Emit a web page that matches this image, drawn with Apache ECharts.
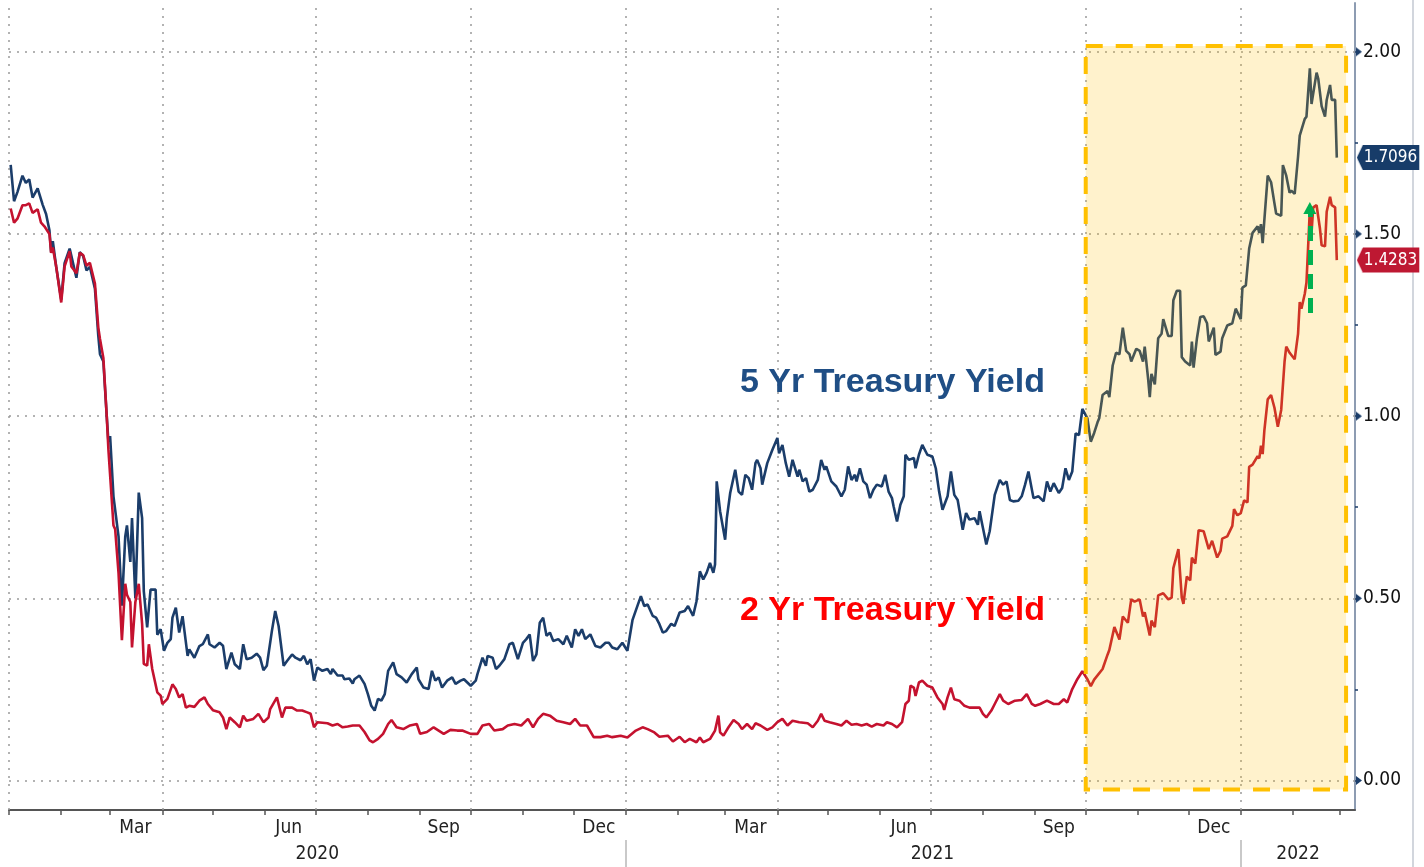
<!DOCTYPE html>
<html>
<head>
<meta charset="utf-8">
<script src="https://cdn.jsdelivr.net/npm/echarts@6/dist/echarts.min.js"></script>
<style>
html,body{margin:0;padding:0;background:#fff;}
#chart{width:1424px;height:867px;}
</style>
</head>
<body>
<div id="chart"></div>
<script>
// ---- DATA (x = days since 2020-01-01) ----
const days5 = [1,3,5,8,10,12,14,17,18,20,22,24,25,26,28,31,33,36,37,40,42,44,46,48,51,53,54,56,58,59,60,62,63,65,67,69,70,72,73,75,77,79,80,82,84,87,88,90,92,94,96,97,99,101,103,106,107,110,113,115,118,119,122,125,127,129,132,134,137,139,141,144,147,149,151,153,156,158,160,163,165,168,170,173,175,177,179,181,183,186,189,191,192,195,198,199,202,204,205,208,211,213,215,217,219,221,223,225,228,230,233,236,239,242,243,246,249,251,253,255,257,260,263,265,268,270,274,277,278,281,283,284,287,289,291,294,297,299,302,305,307,309,311,313,315,317,319,321,323,326,329,331,334,336,338,340,342,345,348,351,354,356,358,361,364,367,370,373,375,377,379,382,384,386,388,390,393,395,398,401,403,406,408,410,412,414,416,418,419,420,422,425,426,428,431,433,435,437,439,441,443,444,446,447,450,453,456,457,459,461,463,465,468,469,471,473,475,477,480,482,484,485,488,491,494,496,498,500,502,503,505,507,509,511,513,515,518,520,522,524,525,527,529,531,532,534,537,538,540,542,545,548,550,552,554,557,559,561,563,566,568,570,573,575,576,578,580,582,585,588,590,592,594,596,599,601,603,605,608,611,614,616,618,620,623,625,627,629,631,633,635,637,640,642,644,646,647,649,652,653,655,657,659,661,663,665,666,669,671,673,674,676,677,678,680,682,684,685,688,690,691,693,695,696,698,701,702,703,705,707,709,711,712,715,716,719,720,723,726,728,731,732,734,736,738,741,742,743,744,745,747,749,751,752,755,756,758,760,761,763,765,766,767,769,770,772,773,776,777,779,781,782,784,785,787,788];
const yield5 = [1.69,1.59,1.615,1.66,1.64,1.65,1.60,1.625,1.61,1.58,1.555,1.51,1.45,1.48,1.41,1.32,1.42,1.46,1.44,1.38,1.45,1.44,1.40,1.41,1.35,1.22,1.17,1.15,1.00,0.93,0.945,0.78,0.78,0.67,0.48,0.67,0.70,0.60,0.72,0.50,0.79,0.72,0.52,0.42,0.524,0.524,0.40,0.415,0.356,0.378,0.388,0.447,0.474,0.406,0.451,0.342,0.36,0.337,0.369,0.374,0.401,0.374,0.365,0.378,0.37,0.306,0.351,0.319,0.306,0.374,0.333,0.337,0.348,0.337,0.303,0.315,0.41,0.465,0.424,0.315,0.328,0.346,0.337,0.33,0.342,0.319,0.333,0.274,0.31,0.301,0.306,0.292,0.306,0.288,0.288,0.278,0.28,0.266,0.278,0.288,0.265,0.237,0.205,0.192,0.224,0.219,0.237,0.301,0.324,0.292,0.283,0.269,0.292,0.31,0.278,0.255,0.251,0.301,0.274,0.283,0.255,0.274,0.283,0.265,0.274,0.278,0.26,0.274,0.292,0.337,0.315,0.342,0.337,0.306,0.315,0.333,0.374,0.378,0.333,0.378,0.388,0.401,0.328,0.346,0.433,0.447,0.397,0.406,0.383,0.388,0.374,0.397,0.365,0.415,0.397,0.415,0.388,0.401,0.369,0.365,0.378,0.378,0.365,0.36,0.378,0.356,0.44,0.48,0.506,0.479,0.483,0.452,0.447,0.429,0.406,0.41,0.43,0.424,0.461,0.465,0.479,0.452,0.492,0.574,0.552,0.57,0.597,0.57,0.593,0.821,0.739,0.661,0.72,0.789,0.853,0.793,0.784,0.839,0.83,0.798,0.871,0.88,0.857,0.812,0.871,0.907,0.94,0.898,0.921,0.871,0.834,0.88,0.834,0.853,0.821,0.83,0.793,0.798,0.825,0.88,0.853,0.862,0.821,0.807,0.78,0.798,0.862,0.825,0.839,0.821,0.857,0.821,0.812,0.775,0.798,0.812,0.807,0.839,0.793,0.775,0.752,0.711,0.757,0.78,0.894,0.88,0.885,0.857,0.894,0.921,0.894,0.889,0.857,0.793,0.743,0.78,0.848,0.784,0.77,0.688,0.734,0.716,0.72,0.702,0.739,0.693,0.648,0.684,0.784,0.825,0.812,0.821,0.77,0.766,0.768,0.78,0.812,0.848,0.775,0.78,0.766,0.821,0.793,0.816,0.789,0.803,0.857,0.825,0.848,0.953,0.948,1.02,0.994,0.93,0.954,0.983,0.994,1.058,1.069,1.052,1.139,1.174,1.17,1.243,1.179,1.17,1.15,1.185,1.179,1.15,1.191,1.104,1.052,1.116,1.087,1.214,1.226,1.266,1.22,1.22,1.318,1.344,1.344,1.162,1.15,1.139,1.205,1.133,1.214,1.272,1.274,1.255,1.205,1.243,1.168,1.177,1.214,1.249,1.255,1.295,1.266,1.353,1.359,1.46,1.503,1.521,1.503,1.527,1.475,1.538,1.66,1.642,1.584,1.556,1.55,1.689,1.66,1.613,1.619,1.61,1.712,1.77,1.775,1.816,1.822,1.955,1.857,1.943,1.926,1.851,1.822,1.868,1.909,1.868,1.868,1.7096];

const days2 = [1,3,5,8,10,12,14,17,19,21,24,25,26,28,31,33,36,37,40,42,44,46,48,51,53,54,56,58,59,60,62,63,65,67,69,70,72,73,75,77,79,80,82,83,85,88,90,91,94,97,99,101,103,105,107,110,113,116,118,121,125,127,129,131,134,137,139,141,145,148,151,154,155,159,162,164,168,171,174,177,179,181,183,189,192,195,198,201,204,208,211,214,216,219,222,225,227,230,234,238,242,244,248,252,255,258,262,266,269,274,278,281,285,288,293,296,300,304,308,311,314,317,321,325,329,333,336,339,343,347,351,355,358,363,367,372,376,379,383,386,391,394,398,401,404,408,410,412,416,419,421,422,424,427,430,433,435,438,441,443,446,450,453,456,459,462,465,469,474,477,480,482,484,487,491,494,497,500,503,506,509,512,515,519,521,524,527,530,532,534,535,537,538,540,542,545,548,551,554,555,557,559,561,564,567,570,573,576,578,580,583,585,588,590,593,597,601,604,607,609,612,616,620,623,626,628,631,634,637,640,642,644,649,652,653,656,659,661,664,666,668,671,673,674,677,678,680,682,685,688,690,691,694,696,697,699,701,702,704,706,709,712,714,717,719,720,723,726,727,729,731,733,735,736,738,741,742,743,744,745,747,749,751,753,755,757,758,760,761,763,765,766,767,769,770,772,773,774,776,778,779,781,782,784,785,787,788];
const yield2 = [1.57,1.531,1.542,1.579,1.579,1.584,1.558,1.568,1.531,1.521,1.50,1.448,1.463,1.411,1.312,1.411,1.453,1.411,1.392,1.448,1.442,1.413,1.421,1.364,1.243,1.212,1.16,1.0,0.908,0.903,0.70,0.69,0.57,0.385,0.54,0.51,0.49,0.365,0.49,0.54,0.43,0.32,0.315,0.374,0.306,0.242,0.233,0.21,0.224,0.264,0.251,0.228,0.237,0.2,0.205,0.202,0.219,0.228,0.21,0.193,0.187,0.173,0.141,0.173,0.16,0.146,0.178,0.164,0.169,0.183,0.16,0.173,0.196,0.228,0.173,0.2,0.2,0.192,0.192,0.187,0.183,0.146,0.16,0.157,0.151,0.155,0.146,0.148,0.151,0.151,0.133,0.11,0.105,0.114,0.128,0.155,0.166,0.146,0.141,0.151,0.155,0.128,0.133,0.146,0.137,0.128,0.139,0.137,0.137,0.128,0.128,0.151,0.155,0.137,0.141,0.151,0.155,0.151,0.169,0.146,0.169,0.183,0.178,0.164,0.16,0.155,0.169,0.151,0.151,0.119,0.119,0.123,0.119,0.123,0.118,0.137,0.146,0.141,0.132,0.12,0.123,0.107,0.12,0.105,0.114,0.105,0.118,0.105,0.114,0.137,0.178,0.132,0.123,0.146,0.166,0.155,0.141,0.155,0.141,0.157,0.151,0.139,0.146,0.16,0.169,0.151,0.164,0.16,0.157,0.146,0.164,0.183,0.164,0.16,0.155,0.151,0.164,0.153,0.155,0.151,0.155,0.148,0.155,0.151,0.16,0.155,0.146,0.16,0.21,0.219,0.26,0.255,0.232,0.269,0.274,0.26,0.255,0.228,0.21,0.194,0.228,0.255,0.223,0.219,0.205,0.2,0.2,0.2,0.183,0.173,0.192,0.21,0.237,0.219,0.21,0.219,0.221,0.237,0.21,0.205,0.21,0.219,0.21,0.21,0.223,0.214,0.251,0.278,0.30,0.278,0.259,0.277,0.306,0.346,0.358,0.421,0.387,0.45,0.433,0.497,0.491,0.497,0.45,0.462,0.398,0.439,0.421,0.508,0.514,0.497,0.502,0.583,0.635,0.502,0.485,0.56,0.549,0.612,0.595,0.687,0.684,0.635,0.658,0.612,0.63,0.664,0.67,0.699,0.745,0.728,0.734,0.769,0.763,0.861,0.867,0.89,0.884,0.919,0.896,0.96,1.046,1.058,1.023,0.971,1.017,1.15,1.191,1.174,1.179,1.156,1.226,1.313,1.295,1.336,1.367,1.567,1.503,1.573,1.579,1.515,1.469,1.466,1.561,1.602,1.579,1.573,1.4283];

const seriesNames = ['5 Yr Treasury Yield', '2 Yr Treasury Yield'];
const monthNames = ['Jan','Feb','Mar','Apr','May','Jun','Jul','Aug','Sep','Oct','Nov','Dec'];
const monthLabelDates = ['2020-03-16','2020-06-15','2020-09-15','2020-12-16','2021-03-16','2021-06-15','2021-09-15','2021-12-16'];
const yearLabelDates = ['2020-07-02','2021-07-02','2022-02-04'];
const yearSeparators = ['2021-01-01','2022-01-01'];
const quarterLines = ['2020-01-01','2020-04-01','2020-07-01','2020-10-01','2021-01-01','2021-04-01','2021-07-01','2021-10-01','2022-01-01'];
const yTickLabels = [0, 0.5, 1, 1.5, 2];
const yMinorTicks = [0, 0.25, 0.5, 0.75, 1, 1.25, 1.5, 1.75, 2];
// highlighted period (days since 2020-01-01) and value bounds
const highlight = { fromDay: 639, toDay: 793.5, top: 2.016, bottom: -0.025 };
// green arrow (day, from value, to value)
const arrow = { day: 772, from: 1.283, to: 1.571 };
// annotation anchors (day, value)
const note5 = { day: 524.3, value: 1.091 };
const note2 = { day: 524.3, value: 0.467 };

// ---- helpers ----
function toTs(s){ const p = s.split('-').map(Number); return new Date(p[0], p[1]-1, p[2]).getTime(); }
const origin = toTs('2020-01-01');
function dayTs(d){ return origin + d * 86400000; }
function tri(color, w, h, dir){
  const c = document.createElement('canvas'); c.width = w; c.height = h;
  const g = c.getContext('2d'); g.fillStyle = color; g.beginPath();
  if (dir === 'right'){ g.moveTo(0,0); g.lineTo(w,h/2); g.lineTo(0,h); }
  else { g.moveTo(w,0); g.lineTo(0,h/2); g.lineTo(w,h); }
  g.closePath(); g.fill(); return c;
}

const BLUE = '#1b3d6a', RED = '#c4122f';
const NARROW = "'Liberation Sans Narrow','DejaVu Sans Condensed',sans-serif";

const monthTicks = [];
for (let y = 2020; y <= 2022; y++) for (let m = 0; m < 12; m++) {
  if (y === 2022 && m > 2) break;
  monthTicks.push(new Date(y, m, 1).getTime());
}

const data5 = days5.map((d, i) => [dayTs(d), yield5[i]]);
const data2 = days2.map((d, i) => [dayTs(d), yield2[i]]);

const gridLineData = quarterLines.map(s => ({ xAxis: toTs(s) }))
  .concat(yTickLabels.map(v => ({ yAxis: v })));

function endLabel(color){
  return {
    show: true, distance: 20,
    formatter: p => '{tip|}{v|' + p.value[1].toFixed(4) + '}',
    rich: {
      tip: { width: 6, height: 25, backgroundColor: { image: tri(color, 6, 25, 'left') } },
      v: { color: '#fff', backgroundColor: color, fontFamily: NARROW, fontSize: 17, height: 25, lineHeight: 25, padding: [0, 2, 0, 1] }
    }
  };
}

const chart = echarts.init(document.getElementById('chart'), null, { renderer: 'canvas' });
const xMin = dayTs(0), xMax = dayTs(798.8);
const option = {
  animation: false,
  backgroundColor: '#ffffff',
  grid: { left: 9, right: 69, top: 3, bottom: 57, containLabel: false },
  xAxis: [
    {
      type: 'value', min: xMin, max: xMax,
      axisLine: { show: true, onZero: false, lineStyle: { color: '#555', width: 2 } },
      axisTick: { show: true, customValues: monthTicks, length: 5, lineStyle: { color: '#555', width: 1.5 } },
      axisLabel: { show: true, customValues: monthLabelDates.map(toTs), margin: 9,
        formatter: v => monthNames[new Date(v).getMonth()],
        fontFamily: NARROW, fontSize: 19, color: '#222' },
      splitLine: { show: false }
    },
    {
      type: 'value', min: xMin, max: xMax, position: 'bottom', offset: 30,
      axisLine: { show: false, onZero: false },
      axisTick: { show: true, customValues: yearSeparators.map(toTs), length: 27, lineStyle: { color: '#b8b8b8', width: 1.5 } },
      axisLabel: { show: true, customValues: yearLabelDates.map(toTs), margin: 5,
        formatter: v => String(new Date(v).getFullYear()),
        fontFamily: NARROW, fontSize: 19, color: '#222' },
      splitLine: { show: false }
    }
  ],
  yAxis: {
    type: 'value', position: 'right', min: -0.081, max: 2.134,
    axisLine: { show: true, onZero: false, lineStyle: { color: '#8d9cb2', width: 2 } },
    axisTick: { show: true, customValues: yMinorTicks, length: 3, lineStyle: { color: BLUE, width: 1.5 } },
    axisLabel: { show: true, customValues: yTickLabels, margin: 1,
      formatter: v => '{t|}{v|' + v.toFixed(2) + '}',
      rich: {
        t: { width: 6, height: 9, backgroundColor: { image: tri(BLUE, 6, 9, 'right') } },
        v: { fontFamily: NARROW, fontSize: 19, color: '#111', padding: [0, 0, 0, 1] }
      } },
    splitLine: { show: false }
  },
  series: [
    {
      name: seriesNames[0], type: 'line', xAxisIndex: 0, data: data5,
      showSymbol: false, symbol: 'none', z: 2,
      lineStyle: { color: BLUE, width: 2.6 },
      itemStyle: { color: BLUE },
      endLabel: endLabel('#173c69'),
      markLine: {
        z: 1, silent: true, symbol: 'none', label: { show: false },
        lineStyle: { color: '#9a9a9a', width: 1.5, type: [2, 6] },
        emphasis: { disabled: true },
        data: gridLineData
      },
      markPoint: {
        symbol: 'circle', symbolSize: 1, itemStyle: { color: 'rgba(0,0,0,0)' },
        label: { show: true, position: 'inside', formatter: '{b}', fontFamily: "'Liberation Sans',Arial,sans-serif",
          fontWeight: 'bold', fontSize: 34, color: '#1f4e85' },
        data: [{ name: seriesNames[0], coord: [dayTs(note5.day), note5.value] }]
      }
    },
    {
      name: seriesNames[1], type: 'line', xAxisIndex: 0, data: data2,
      showSymbol: false, symbol: 'none', z: 2,
      lineStyle: { color: RED, width: 2.6 },
      itemStyle: { color: RED },
      endLabel: endLabel('#be1832'),
      markArea: {
        z: 3, silent: true,
        itemStyle: { color: 'rgba(255,192,0,0.2)', borderColor: '#FFC000', borderWidth: 4, borderType: [17, 13] },
        data: [[
          { coord: [dayTs(highlight.fromDay), highlight.top] },
          { coord: [dayTs(highlight.toDay), highlight.bottom] }
        ]]
      },
      markLine: {
        z: 6, silent: true, symbol: ['none', 'triangle'], symbolSize: [13, 12],
        label: { show: false },
        lineStyle: { color: '#00b050', width: 5, type: [15, 9] },
        itemStyle: { color: '#00b050' },
        data: [[
          { coord: [dayTs(arrow.day), arrow.from] },
          { coord: [dayTs(arrow.day), arrow.to] }
        ]]
      },
      markPoint: {
        symbol: 'circle', symbolSize: 1, itemStyle: { color: 'rgba(0,0,0,0)' },
        label: { show: true, position: 'inside', formatter: '{b}', fontFamily: "'Liberation Sans',Arial,sans-serif",
          fontWeight: 'bold', fontSize: 34, color: '#ff0000' },
        data: [{ name: seriesNames[1], coord: [dayTs(note2.day), note2.value] }]
      }
    }
  ],
  graphic: [
    { type: 'line', shape: { x1: 1413, y1: 0, x2: 1413, y2: 867 }, style: { stroke: '#c3c9d2', lineWidth: 1.5 }, silent: true }
  ]
};
chart.setOption(option);
</script>
</body>
</html>
